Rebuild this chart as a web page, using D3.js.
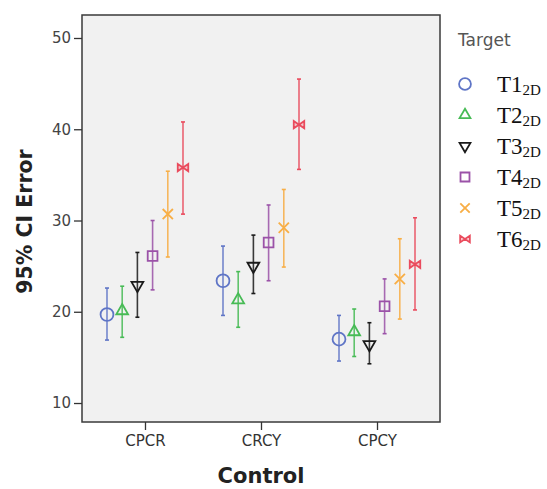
<!DOCTYPE html>
<html>
<head>
<meta charset="utf-8">
<script src="https://cdn.jsdelivr.net/npm/d3@7"></script>
<style>
  body { margin: 0; background: #fff; }
</style>
</head>
<body>
<svg id="chart" width="547" height="489" font-family="DejaVu Sans, sans-serif"></svg>
<script>
// categories on the x axis and the six targets
const controls = ["CPCR", "CRCY", "CPCY"];
const targets = ["T1", "T2", "T3", "T4", "T5", "T6"];

// mean error per target, one array per control condition
const meanCPCR = [19.7, 20.1, 22.9, 26.1, 30.7, 35.8];
const meanCRCY = [23.4, 21.3, 25.0, 27.6, 29.2, 40.5];
const meanCPCY = [17.0, 17.8, 16.4, 20.6, 23.6, 25.2];

// 95% CI lower / upper bounds
const lowCPCR = [16.9, 17.2, 19.4, 22.4, 26.0, 30.7];
const highCPCR = [22.6, 22.8, 26.5, 30.0, 35.4, 40.8];
const lowCRCY = [19.6, 18.3, 22.0, 23.4, 24.9, 35.6];
const highCRCY = [27.2, 24.4, 28.4, 31.7, 33.4, 45.5];
const lowCPCY = [14.6, 15.1, 14.3, 17.6, 19.2, 20.2];
const highCPCY = [19.6, 20.3, 18.8, 23.6, 28.0, 30.3];

const yTicks = [10, 20, 30, 40, 50];
const colors = ["#5f75c6", "#47bb55", "#1a1a1a", "#9b52a8", "#f8ae45", "#ea4b5d"];

const means = [meanCPCR, meanCRCY, meanCPCY];
const lows = [lowCPCR, lowCRCY, lowCPCY];
const highs = [highCPCR, highCRCY, highCPCY];

const rows = [];
controls.forEach((c, i) => {
  targets.forEach((t, j) => {
    rows.push({ control: c, target: t, k: j, mean: means[i][j], low: lows[i][j], high: highs[i][j] });
  });
});

const svg = d3.select("#chart");
const plot = { left: 82, right: 440, top: 15, bottom: 422 };

const x = d3.scalePoint().domain(controls).range([plot.left, plot.right]).padding(0.543);
const dx = d3.scalePoint().domain(targets).range([-38, 38]);
const y = d3.scaleLinear().domain([7.92, 52.52]).range([plot.bottom, plot.top]);

// bowtie symbol for T6
const bowtie = {
  draw(ctx, size) {
    const s = Math.sqrt(size) / 2;
    const h = s * 0.7;
    ctx.moveTo(-s, -h); ctx.lineTo(0, 0); ctx.lineTo(-s, h); ctx.closePath();
    ctx.moveTo(s, -h); ctx.lineTo(0, 0); ctx.lineTo(s, h); ctx.closePath();
  }
};
const symbolTypes = [d3.symbolCircle, d3.symbolTriangle, d3.symbolTriangle, d3.symbolSquare, d3.symbolTimes || d3.symbolX, bowtie];
const symbolSizes = [130, 60, 60, 95, 70, 110];
const rotations = [0, 0, 180, 0, 0, 0];

// plot background
svg.append("rect")
  .attr("x", plot.left).attr("y", plot.top)
  .attr("width", plot.right - plot.left).attr("height", plot.bottom - plot.top)
  .attr("fill", "#f1f1f1").attr("stroke", "#3a3a3a").attr("stroke-width", 1.5);

// y axis
const yAxis = svg.append("g")
  .attr("transform", `translate(${plot.left},0)`)
  .call(d3.axisLeft(y).tickValues(yTicks).tickSize(8).tickPadding(3));
yAxis.attr("font-family", null).attr("font-size", null);
yAxis.select(".domain").remove();
yAxis.selectAll("line").attr("stroke", "#333").attr("stroke-width", 1.3);
yAxis.selectAll("text").attr("font-size", 15).attr("fill", "#444");

// x axis
const xAxis = svg.append("g")
  .attr("transform", `translate(0,${plot.bottom})`)
  .call(d3.axisBottom(x).tickSize(8).tickPadding(5));
xAxis.attr("font-family", null).attr("font-size", null);
xAxis.select(".domain").remove();
xAxis.selectAll("line").attr("stroke", "#333").attr("stroke-width", 1.3);
xAxis.selectAll("text").attr("font-size", 15).attr("fill", "#333");

// axis titles
svg.append("text")
  .attr("transform", `translate(32,${(plot.top + plot.bottom) / 2 + 3}) rotate(-90)`)
  .attr("text-anchor", "middle").attr("font-size", 20.5).attr("font-weight", "bold")
  .attr("fill", "#222").text("95% CI Error");
svg.append("text")
  .attr("x", 261).attr("y", 483)
  .attr("text-anchor", "middle").attr("font-size", 21).attr("font-weight", "bold")
  .attr("fill", "#222").text("Control");

// error bars
const g = svg.append("g");
const bars = g.selectAll(".bar").data(rows).join("g")
  .attr("class", "bar")
  .attr("transform", d => `translate(${x(d.control) + dx(d.target)},0)`);
bars.append("line")
  .attr("y1", d => y(d.low)).attr("y2", d => y(d.high))
  .attr("stroke", d => colors[d.k]).attr("stroke-width", 1.6).attr("opacity", 0.85);
bars.append("line")
  .attr("x1", -2).attr("x2", 2).attr("y1", d => y(d.low)).attr("y2", d => y(d.low))
  .attr("stroke", d => colors[d.k]).attr("stroke-width", 1.6);
bars.append("line")
  .attr("x1", -2).attr("x2", 2).attr("y1", d => y(d.high)).attr("y2", d => y(d.high))
  .attr("stroke", d => colors[d.k]).attr("stroke-width", 1.6);
bars.append("path")
  .attr("transform", d => `translate(0,${y(d.mean)}) rotate(${rotations[d.k]})`)
  .attr("d", d => d3.symbol(symbolTypes[d.k], symbolSizes[d.k])())
  .attr("fill", d => d.k === 5 ? colors[5] : "none")
  .attr("fill-opacity", d => d.k === 5 ? 0.25 : 1)
  .attr("stroke", d => colors[d.k]).attr("stroke-width", 1.8);

// legend
const legend = svg.append("g");
legend.append("text").attr("x", 458).attr("y", 46)
  .attr("font-size", 17).attr("fill", "#555").text("Target");
const items = legend.selectAll(".item").data(targets).join("g")
  .attr("class", "item")
  .attr("transform", (d, i) => `translate(0,${84 + i * 31})`);
items.append("path")
  .attr("transform", (d, i) => `translate(465,0) rotate(${rotations[i]})`)
  .attr("d", (d, i) => d3.symbol(symbolTypes[i], symbolSizes[i] * 0.85)())
  .attr("fill", (d, i) => i === 5 ? colors[5] : "none")
  .attr("fill-opacity", (d, i) => i === 5 ? 0.25 : 1)
  .attr("stroke", (d, i) => colors[i]).attr("stroke-width", 1.8);
const lt = items.append("text").attr("x", 497).attr("y", 8)
  .attr("font-family", "Liberation Serif, serif").attr("font-size", 23).attr("fill", "#111");
lt.append("tspan").text(d => d);
lt.append("tspan").attr("font-size", 15).attr("dy", 3).text("2D");
</script>
</body>
</html>
